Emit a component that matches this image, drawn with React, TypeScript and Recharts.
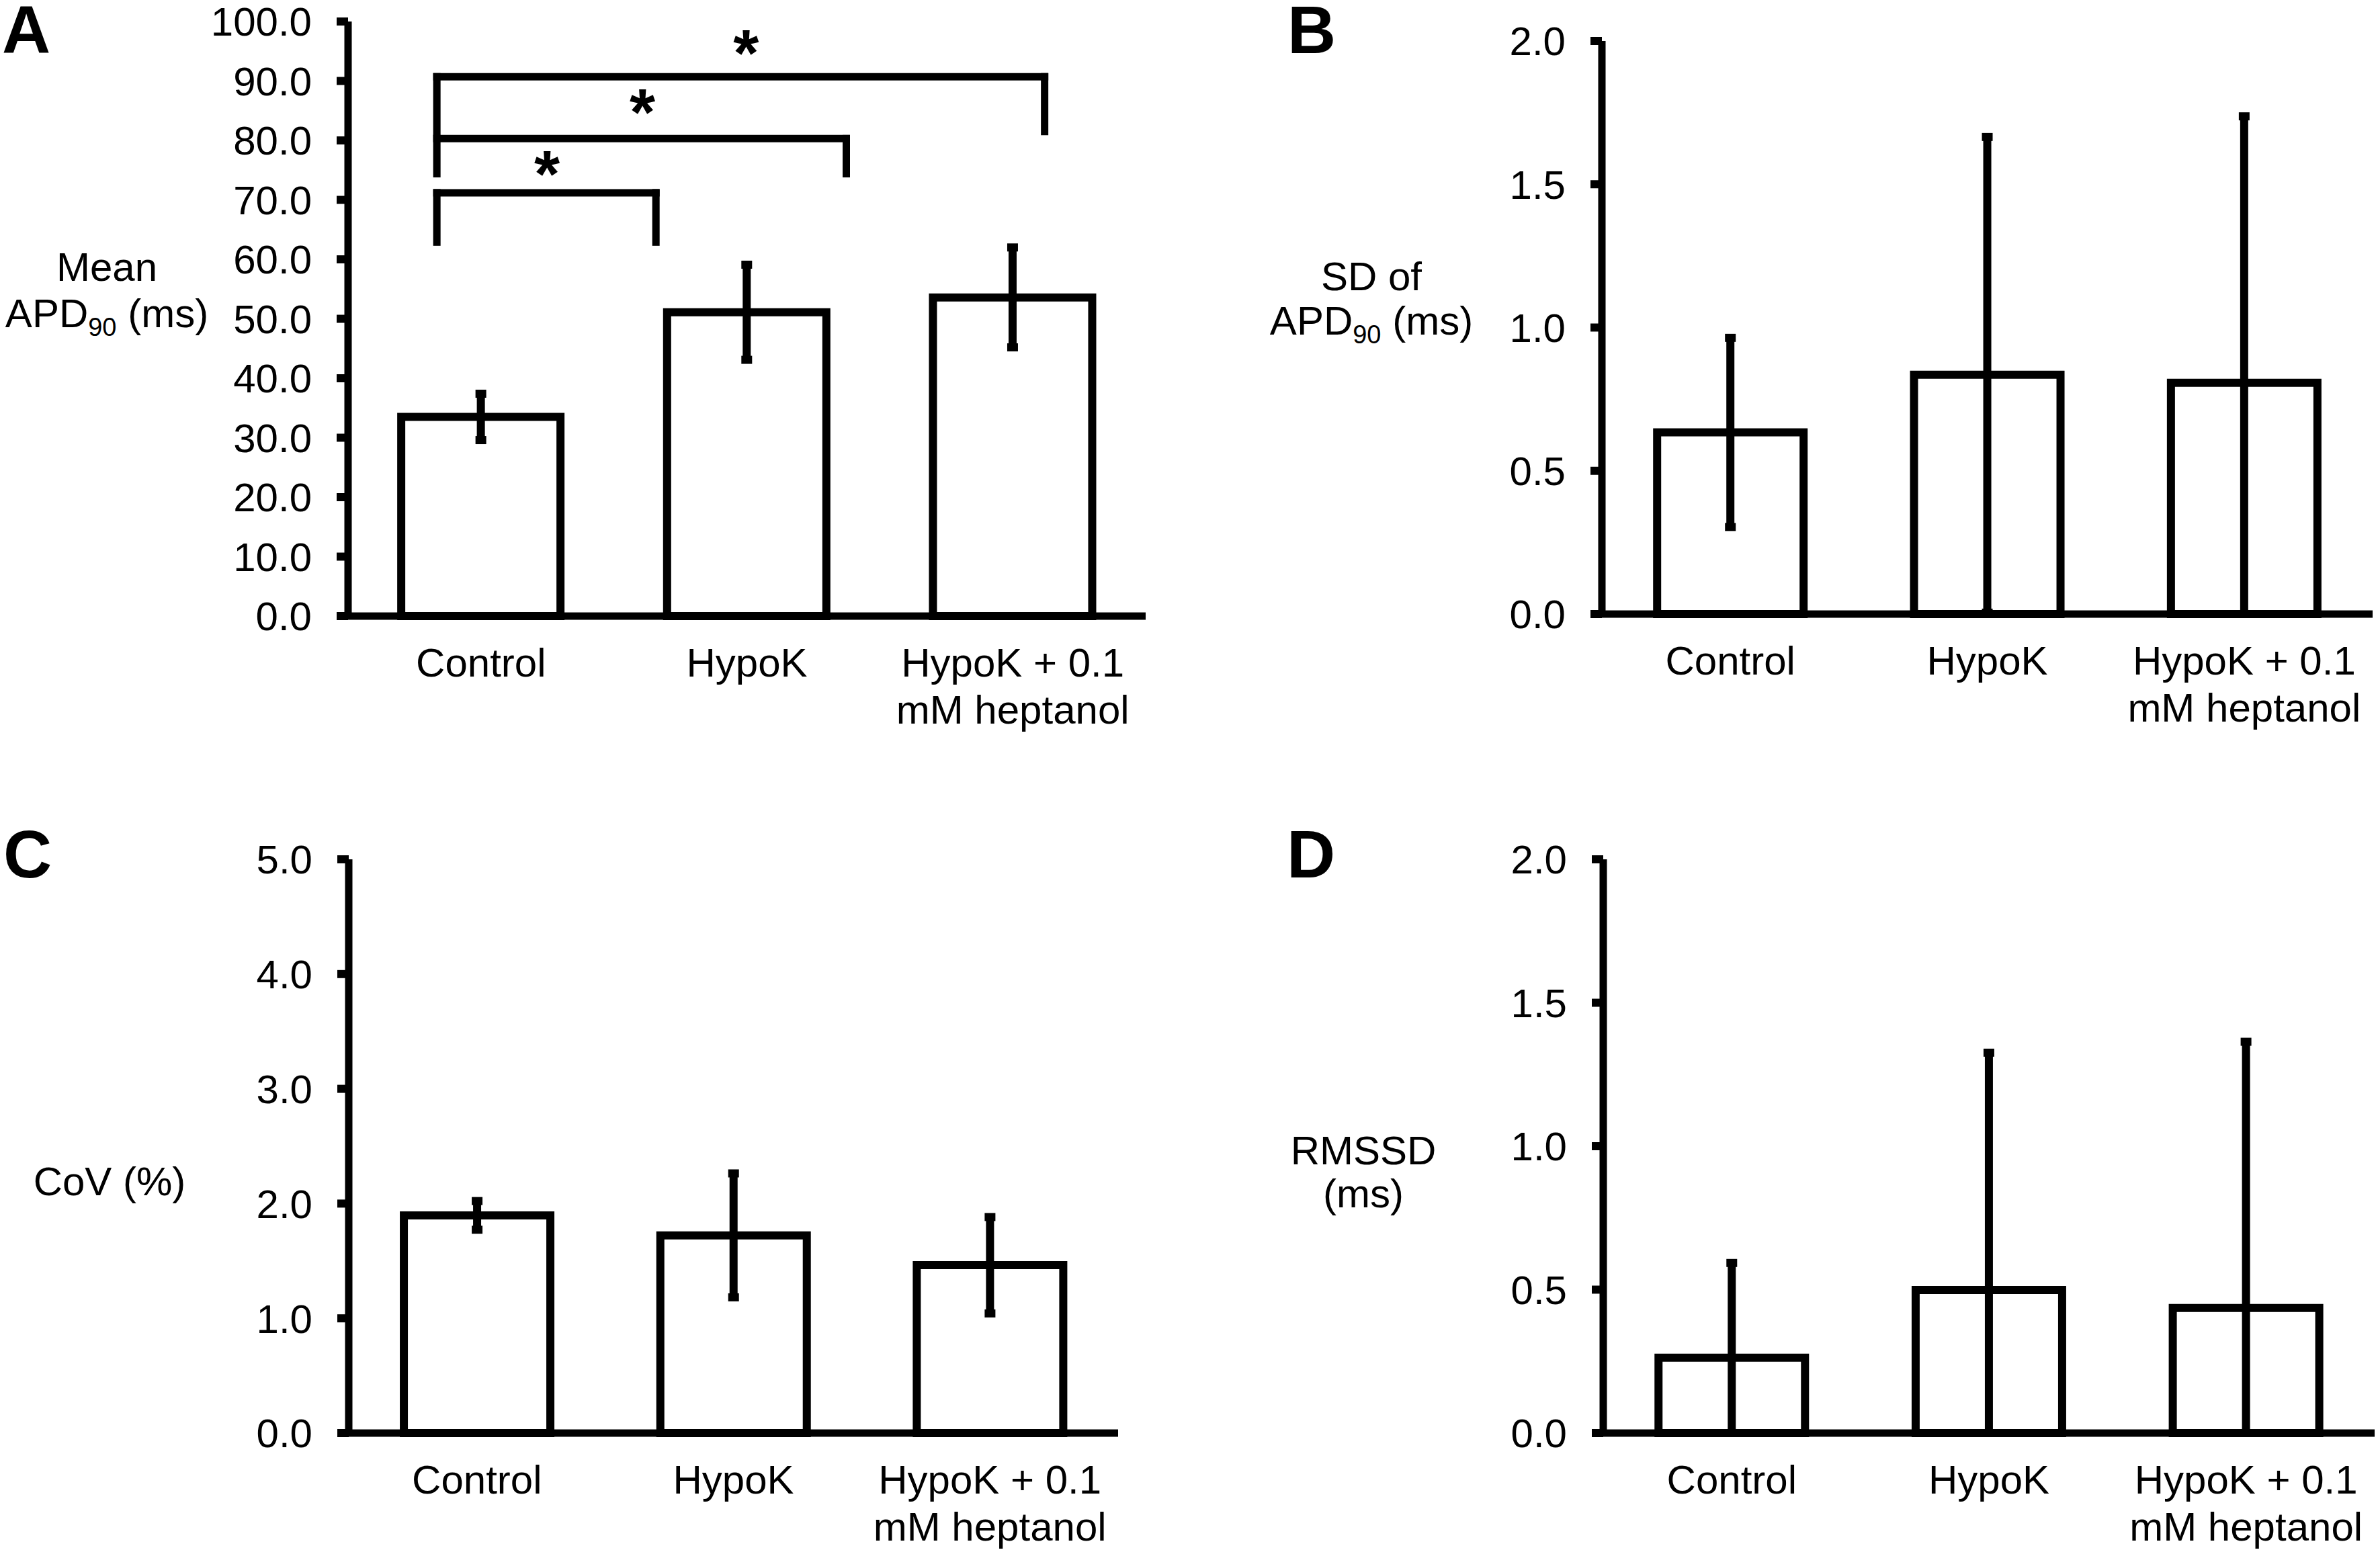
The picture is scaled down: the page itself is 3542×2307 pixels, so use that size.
import React from 'react';
import {
  BarChart,
  Bar,
  XAxis,
  YAxis,
  ErrorBar,
  ReferenceLine,
  ReferenceDot,
} from 'recharts';

const FONT = '"Liberation Sans", Arial, Helvetica, sans-serif';

// categories shared by all four panels
const categories = ['Control', 'HypoK', 'HypoK + 0.1 mM heptanol'];
// position of each category on the hidden numeric axis (used for the brackets)
const categoryPos = [0.5, 1.5, 2.5];

// A: mean APD90 (ms), error = [below, above]
const meanApd = [33.5, 51.1, 53.6];
const meanApdErr = [[3.9, 3.9], [8.0, 8.0], [8.4, 8.4]];

// B: SD of APD90 (ms), lower whiskers stop at the axis
const sdApd = [0.634, 0.835, 0.807];
const sdApdErr = [[0.33, 0.33], [0.83, 0.83], [0.807, 0.93]];

// C: CoV (%)
const cov = [1.897, 1.723, 1.463];
const covErr = [[0.125, 0.125], [0.54, 0.54], [0.42, 0.42]];

// D: RMSSD (ms)
const rmssd = [0.263, 0.499, 0.436];
const rmssdErr = [[0.263, 0.33], [0.499, 0.827], [0.436, 0.928]];

const ticksA = [0, 10, 20, 30, 40, 50, 60, 70, 80, 90, 100];
const ticksHalf = [0, 0.5, 1, 1.5, 2];
const ticksC = [0, 1, 2, 3, 4, 5];

// significance brackets in panel A (x in category units 0..3)
const bracketLeft = [0.334, 0.334, 0.334];
const bracketRight = [1.158, 1.874, 2.62];
const bracketTop = [71.2, 80.3, 90.7];
const bracketFoot = [62.9, 74.4, 81.5];
const starX = [0.748, 1.107, 1.497];
const starY = [75.7, 86.1, 96.0];

const wrapLabel = (label: string, max = 11): string[] => {
  const out: string[] = [];
  let cur = '';
  label.split(' ').forEach((w) => {
    const next = cur ? `${cur} ${w}` : w;
    if (next.length > max && cur) {
      out.push(cur);
      cur = w;
    } else {
      cur = next;
    }
  });
  if (cur) out.push(cur);
  return out;
};

const CategoryTick = (props: any) => {
  const { x, y, payload } = props;
  const lines = wrapLabel(String(payload.value));
  return (
    <text x={x} y={y} textAnchor="middle" fontSize={60} fontFamily={FONT} fill="#000">
      {lines.map((l, i) => (
        <tspan key={i} x={x} dy={i === 0 ? 90 : 70}>
          {l}
        </tspan>
      ))}
    </text>
  );
};

type Seg = { t: string; sub?: boolean };

const YTitle = ({ cx, baseline, lines }: { cx: number; baseline: number[]; lines: Seg[][] }) => (
  <g>
    {lines.map((segs, i) => (
      <text key={i} x={cx} y={baseline[i]} textAnchor="middle" fontSize={60} fontFamily={FONT} fill="#000">
        {segs.map((s, j) =>
          s.sub ? (
            <tspan key={j} fontSize={38} dy={13}>
              {s.t}
            </tspan>
          ) : (
            <tspan key={j} dy={j > 0 && segs[j - 1].sub ? -13 : 0}>
              {s.t}
            </tspan>
          )
        )}
      </text>
    ))}
  </g>
);

const Star = (props: any) => (
  <text
    x={props.cx}
    y={props.cy + 46}
    textAnchor="middle"
    fontSize={98}
    fontWeight="bold"
    fontFamily={FONT}
    fill="#000"
  >
    *
  </text>
);

interface PanelProps {
  left: number;
  top: number;
  width: number;
  height: number;
  yAxisWidth: number;
  marginTop: number;
  marginRight: number;
  xAxisHeight: number;
  domain: [number, number];
  ticks: number[];
  values: number[];
  errors: number[][];
  gap: string;
  title: { cx: number; baseline: number[]; lines: Seg[][] };
  brackets?: boolean;
}

const Panel: React.FC<PanelProps> = (p) => {
  const data = categories.map((name, i) => ({
    name,
    pos: categoryPos[i],
    value: p.values[i],
    err: p.errors[i],
  }));
  return (
    <div style={{ position: 'absolute', left: p.left, top: p.top }}>
      <BarChart
        width={p.width}
        height={p.height}
        data={data}
        barCategoryGap={p.gap}
        margin={{ top: p.marginTop, right: p.marginRight, bottom: 0, left: 0 }}
      >
        <XAxis
          dataKey="name"
          interval={0}
          height={p.xAxisHeight}
          tickLine={false}
          tickSize={0}
          tickMargin={0}
          axisLine={{ stroke: '#000', strokeWidth: 11 }}
          tick={<CategoryTick />}
        />
        <XAxis xAxisId="n" dataKey="pos" type="number" domain={[0, 3]} allowDataOverflow hide />
        <YAxis
          type="number"
          width={p.yAxisWidth}
          domain={p.domain}
          ticks={p.ticks}
          interval={0}
          tickFormatter={(v: number) => v.toFixed(1)}
          tickSize={17}
          tickMargin={37}
          tick={{ fontSize: 60, fill: '#000', fontFamily: FONT }}
          tickLine={{ stroke: '#000', strokeWidth: 12 }}
          axisLine={{ stroke: '#000', strokeWidth: 11 }}
          label={<YTitle cx={p.title.cx} baseline={p.title.baseline} lines={p.title.lines} />}
        />
        <Bar dataKey="value" fill="#fff" stroke="#000" strokeWidth={12} isAnimationActive={false}>
          <ErrorBar dataKey="err" direction="y" width={8} strokeWidth={12} stroke="#000" isAnimationActive={false} />
        </Bar>
        {p.brackets &&
          bracketTop.map((yTop, i) => [
            <ReferenceLine
              key={`l${i}`}
              xAxisId="n"
              segment={[
                { x: bracketLeft[i], y: bracketFoot[i] },
                { x: bracketLeft[i], y: yTop },
              ]}
              stroke="#000"
              strokeWidth={11}
              strokeLinecap="square"
            />,
            <ReferenceLine
              key={`t${i}`}
              xAxisId="n"
              segment={[
                { x: bracketLeft[i], y: yTop },
                { x: bracketRight[i], y: yTop },
              ]}
              stroke="#000"
              strokeWidth={11}
              strokeLinecap="square"
            />,
            <ReferenceLine
              key={`r${i}`}
              xAxisId="n"
              segment={[
                { x: bracketRight[i], y: yTop },
                { x: bracketRight[i], y: bracketFoot[i] },
              ]}
              stroke="#000"
              strokeWidth={11}
              strokeLinecap="square"
            />,
            <ReferenceDot key={`s${i}`} xAxisId="n" x={starX[i]} y={starY[i]} r={0} shape={<Star />} />,
          ])}
      </BarChart>
    </div>
  );
};

const Letter = ({ text, x, baseline }: { text: string; x: number; baseline: number }) => (
  <div
    style={{
      position: 'absolute',
      left: x,
      top: baseline - 75,
      fontFamily: FONT,
      fontWeight: 'bold',
      fontSize: 100,
      lineHeight: '80px',
      color: '#000',
    }}
  >
    {text}
  </div>
);

const apdTitle: Seg[] = [{ t: 'APD' }, { t: '90', sub: true }, { t: ' (ms)' }];

export default function App() {
  return (
    <div
      style={{
        position: 'absolute',
        left: 0,
        top: 0,
        width: 3542,
        height: 2307,
        background: '#fff',
        overflow: 'hidden',
      }}
    >
      <Panel
        left={0}
        top={0}
        width={1771}
        height={1150}
        yAxisWidth={518}
        marginTop={32}
        marginRight={66}
        xAxisHeight={233}
        domain={[0, 100]}
        ticks={ticksA}
        values={meanApd}
        errors={meanApdErr}
        gap="20%"
        title={{ cx: 159, baseline: [418, 487], lines: [[{ t: 'Mean' }], apdTitle] }}
        brackets
      />
      <Panel
        left={1771}
        top={0}
        width={1771}
        height={1150}
        yAxisWidth={613}
        marginTop={61}
        marginRight={11}
        xAxisHeight={236}
        domain={[0, 2]}
        ticks={ticksHalf}
        values={sdApd}
        errors={sdApdErr}
        gap="21.5%"
        title={{ cx: 270, baseline: [432, 498], lines: [[{ t: 'SD of' }], apdTitle] }}
      />
      <Panel
        left={0}
        top={1153}
        width={1771}
        height={1154}
        yAxisWidth={519}
        marginTop={126}
        marginRight={107}
        xAxisHeight={174}
        domain={[0, 5]}
        ticks={ticksC}
        values={cov}
        errors={covErr}
        gap="21.5%"
        title={{ cx: 163, baseline: [626], lines: [[{ t: 'CoV (%)' }]] }}
      />
      <Panel
        left={1771}
        top={1153}
        width={1771}
        height={1154}
        yAxisWidth={615}
        marginTop={126}
        marginRight={8}
        xAxisHeight={174}
        domain={[0, 2]}
        ticks={ticksHalf}
        values={rmssd}
        errors={rmssdErr}
        gap="21.5%"
        title={{ cx: 258, baseline: [580, 644], lines: [[{ t: 'RMSSD' }], [{ t: '(ms)' }]] }}
      />
      <Letter text="A" x={3} baseline={79} />
      <Letter text="B" x={1916} baseline={79} />
      <Letter text="C" x={5} baseline={1306} />
      <Letter text="D" x={1915} baseline={1306} />
    </div>
  );
}
